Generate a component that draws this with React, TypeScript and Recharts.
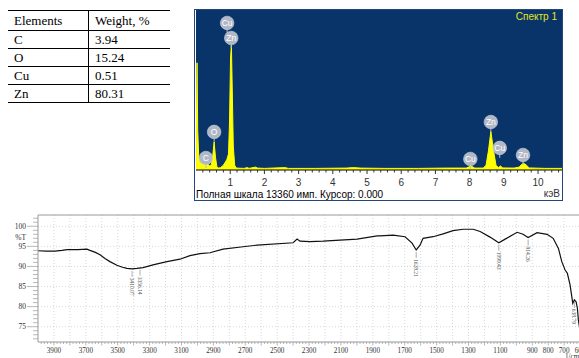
import React from 'react';
import { ComposedChart, Line, Area, Scatter, XAxis, YAxis, ReferenceLine, CartesianGrid } from 'recharts';

// ---------- table ----------
const tableElements = ['C', 'O', 'Cu', 'Zn'];
const tableWeights = ['3.94', '15.24', '0.51', '80.31'];

// ---------- EDS spectrum ----------
const edsEnergy = [0, 0.03, 0.05, 0.08, 0.12, 0.18, 0.24, 0.28, 0.33, 0.4, 0.45, 0.49, 0.53, 0.57, 0.61, 0.66, 0.72, 0.8, 0.86, 0.9, 0.95, 0.98, 1.01, 1.035, 1.06, 1.09, 1.13, 1.18, 1.4, 1.5, 1.55, 1.74, 1.8, 2.0, 2.6, 2.7, 3.5, 4.4, 4.6, 4.8, 5.5, 6.5, 7.3, 7.9, 8.04, 8.15, 8.4, 8.48, 8.55, 8.62, 8.7, 8.77, 8.84, 8.9, 8.97, 9.3, 9.45, 9.52, 9.58, 9.66, 9.74, 10.2, 10.7];
const edsCounts = [0, 67, 25, 8, 5, 4, 5, 6.5, 4, 2.5, 3.5, 9, 17.5, 8, 2, 1.2, 1.5, 3, 5, 6.5, 10, 30, 70, 78, 50, 15, 3, 1.2, 1, 1.5, 1, 1.8, 1.2, 1, 1.5, 1, 1, 1.2, 1.5, 1.2, 1, 1, 1.2, 1.2, 2.5, 1.2, 1.2, 3, 12, 24, 12, 3, 1.5, 2.5, 1.3, 1.2, 1.8, 3.5, 4.2, 3, 1.3, 1, 1];
const edsLabelNames = ['C', 'O', 'Cu', 'Zn', 'Cu', 'Zn', 'Cu', 'Zn'];
const edsLabelEnergy = [0.29, 0.53, 0.91, 1.03, 8.02, 8.62, 8.88, 9.56];
const edsLabelLevel = [7.5, 23.8, 91.9, 82.5, 6.9, 30, 13.8, 9.4];
const edsMajorTicks = [1, 2, 3, 4, 5, 6, 7, 8, 9, 10];

// ---------- FTIR spectrum ----------
const ftirWavenumber = [4000, 3950, 3894, 3850, 3818, 3750, 3693, 3674, 3640, 3611, 3580, 3549, 3505, 3470, 3442, 3410, 3380, 3341, 3279, 3191, 3110, 3047, 2984, 2921, 2840, 2714, 2626, 2400, 2375, 2357, 2294, 2212, 1999, 1873, 1855, 1773, 1698, 1654, 1628, 1604, 1585, 1522, 1459, 1397, 1334, 1271, 1227, 1165, 1110, 1070, 995, 958, 926, 870, 807, 769, 736, 715, 694, 680, 663, 646, 636, 625, 617, 611, 600, 590];
const ftirTransmittance = [93.9, 93.8, 93.8, 94.0, 94.2, 94.2, 94.3, 94.0, 93.5, 92.9, 92.0, 91.2, 90.3, 89.8, 89.5, 89.4, 89.5, 89.7, 90.4, 91.2, 91.8, 92.7, 93.2, 93.4, 94.3, 94.9, 95.3, 95.9, 96.8, 96.3, 96.2, 96.3, 96.8, 97.6, 97.6, 97.8, 97.4, 95.8, 94.1, 95.3, 97.0, 97.4, 98.1, 98.9, 99.25, 99.25, 98.7, 97.3, 95.9, 96.8, 98.5, 98.0, 97.2, 98.4, 98.0, 97.0, 94.5, 91.2, 89.1, 88.3, 85.4, 80.8, 81.7, 81.2, 79.6, 76.7, 74, 73];
const ftirPeakWavenumber = [3410, 3360, 1628, 1110, 926, 636];
const ftirPeakLabels = ['3410.07', '3356.14', '1628.21', '1099.43', '914.26', '638.79'];
const ftirXLabels = [3900, 3700, 3500, 3300, 3100, 2900, 2700, 2500, 2300, 2100, 1900, 1700, 1500, 1300, 1100, 900, 800, 700, 600];
const ftirYLabels = [75, 80, 85, 90, 95, 100];

const edsData = edsEnergy.map((e, i) => ({ e, c: edsCounts[i] }));
const edsLabels = edsLabelNames.map((name, i) => ({ e: edsLabelEnergy[i], c: edsLabelLevel[i], name }));
const edsTicks = Array.from({ length: 53 }, (_, i) => Math.round((i + 1) * 2) / 10);

const ftirData = ftirWavenumber.map((v, i) => ({ v, t: ftirTransmittance[i] }));
const ftirPeaks = ftirPeakWavenumber.map((v, i) => {
  let best = 0;
  ftirWavenumber.forEach((w, j) => { if (Math.abs(w - v) < Math.abs(ftirWavenumber[best] - v)) best = j; });
  return { v, t: ftirTransmittance[best], label: ftirPeakLabels[i] };
});
const ftirXTicks = Array.from({ length: 179 }, (_, i) => 420 + i * 20);
const Y_MIN = 71.2;
const Y_MAX = 102.8;
const PCT_T = 97.3;
const ftirYTicks = [...Array.from({ length: 31 }, (_, i) => 72 + i), PCT_T];
const ftirGridX = Array.from({ length: 35 }, (_, i) => 500 + i * 100);

const SERIF = '"Liberation Serif", "Times New Roman", serif';
const SANS = '"Liberation Sans", Arial, sans-serif';

const EdsTick = (p: any) => {
  const { x, y, payload } = p;
  const v = payload.value;
  const major = edsMajorTicks.some((m) => Math.abs(m - v) < 1e-6);
  return (
    <g>
      <line x1={x} x2={x} y1={y} y2={y + (major ? 4 : 2.5)} stroke="#333" strokeWidth={1} />
      {major && (
        <text x={x} y={y + 16} textAnchor="middle" fontSize={10} fill="#333" fontFamily={SANS}>
          {Math.round(v)}
        </text>
      )}
    </g>
  );
};

const renderEdsLabel = (p: any) => {
  const { cx, cy, payload } = p;
  return (
    <g>
      <line x1={cx} x2={cx} y1={cy + 6} y2={cy + 10} stroke="#b3bbca" strokeWidth={1} />
      <circle cx={cx} cy={cy} r={6.8} fill="#b0b8c7" stroke="#cdd2dc" strokeWidth={0.6} />
      <text x={cx} y={cy + 3} textAnchor="middle" fontSize={8.5} fill="#ffffff" fontFamily={SANS}>
        {payload.name}
      </text>
    </g>
  );
};

const FtirXTick = (p: any) => {
  const { x, y, payload } = p;
  const v = payload.value;
  const major = v % 100 === 0;
  const label = ftirXLabels.includes(v);
  return (
    <g>
      <line x1={x} x2={x} y1={y} y2={y + (major ? 3.5 : 2)} stroke="#999" strokeWidth={0.7} />
      {label && (
        <text x={x} y={y + 11} textAnchor="middle" fontSize={7.2} fill="#333" fontFamily={SERIF}>
          {v}
        </text>
      )}
      {v === 600 && (
        <text x={x - 8} y={y + 17} textAnchor="middle" fontSize={7.2} fill="#333" fontFamily={SERIF}>
          1/cm
        </text>
      )}
    </g>
  );
};

const FtirYTick = (p: any) => {
  const { x, y, payload } = p;
  const v = payload.value;
  if (v === PCT_T) {
    return (
      <text x={x - 12} y={y + 3} textAnchor="end" fontSize={7.5} fill="#333" fontFamily={SERIF}>
        %T
      </text>
    );
  }
  const major = ftirYLabels.includes(v);
  return (
    <g>
      <line x1={x - (major ? 11 : 5)} x2={x} y1={y} y2={y} stroke="#999" strokeWidth={0.7} />
      {major && (
        <text x={x - 12} y={y + 2.5} textAnchor="end" fontSize={7.5} fill="#333" fontFamily={SERIF}>
          {v}
        </text>
      )}
    </g>
  );
};

const renderPeak = (p: any) => {
  const { cx, cy, payload } = p;
  return (
    <g>
      <line x1={cx} x2={cx} y1={cy + 2} y2={cy + 8} stroke="#777" strokeWidth={0.6} />
      <text transform={`translate(${cx - 2},${cy + 9}) rotate(90)`} fontSize={5.5} fill="#555" fontFamily={SERIF}>
        {payload.label}
      </text>
    </g>
  );
};

const cellBase: React.CSSProperties = {
  borderTop: '1px solid #000',
  borderBottom: '1px solid #000',
  padding: '0 0 0 6px',
  lineHeight: '15px',
  verticalAlign: 'middle',
};

function DataTable() {
  return (
    <table
      style={{
        position: 'absolute',
        left: 8,
        top: 10,
        width: 162,
        borderCollapse: 'collapse',
        fontFamily: SERIF,
        fontSize: 13,
        color: '#000',
      }}
    >
      <tbody>
        <tr style={{ height: 20 }}>
          <td style={{ ...cellBase, width: 74, borderRight: '1px solid #000', borderTop: '1.5px solid #000' }}>Elements</td>
          <td style={{ ...cellBase, borderTop: '1.5px solid #000' }}>Weight, %</td>
        </tr>
        {tableElements.map((el, i) => (
          <tr key={el} style={{ height: 18 }}>
            <td style={{ ...cellBase, borderRight: '1px solid #000' }}>{el}</td>
            <td style={cellBase}>{tableWeights[i]}</td>
          </tr>
        ))}
      </tbody>
    </table>
  );
}

function Eds() {
  return (
    <div
      style={{
        position: 'absolute',
        left: 194,
        top: 9,
        width: 367,
        height: 190,
        border: '1px solid #25467a',
        background: '#fff',
      }}
    >
      <ComposedChart width={367} height={190} data={edsData} margin={{ top: 0, right: 0, left: 1, bottom: 10 }}>
        <CartesianGrid horizontal={false} vertical={false} fill="#08346a" stroke="none" />
        <XAxis
          dataKey="e"
          type="number"
          domain={[0, 10.7]}
          ticks={edsTicks}
          interval={0}
          tickLine={false}
          tickSize={0}
          tickMargin={0}
          height={20}
          axisLine={{ stroke: '#000' }}
          tick={EdsTick}
          allowDataOverflow
        />
        <YAxis type="number" domain={[0, 100]} hide allowDataOverflow />
        <Area
          dataKey="c"
          type="linear"
          stroke="#ffff00"
          strokeWidth={1}
          fill="#ffff00"
          fillOpacity={1}
          dot={false}
          activeDot={false}
          isAnimationActive={false}
        />
        <Scatter data={edsLabels} dataKey="c" shape={renderEdsLabel} isAnimationActive={false} />
      </ComposedChart>
      <div
        style={{
          position: 'absolute',
          right: 5,
          top: 1,
          fontFamily: SANS,
          fontSize: 10,
          lineHeight: '12px',
          color: '#e6e61e',
        }}
      >
        Спектр 1
      </div>
      <div
        style={{
          position: 'absolute',
          left: 1,
          top: 179,
          fontFamily: SANS,
          fontSize: 10,
          lineHeight: '12px',
          color: '#000',
          whiteSpace: 'nowrap',
        }}
      >
        Полная шкала 13360 имп. Курсор: 0.000
      </div>
      <div
        style={{
          position: 'absolute',
          right: 2,
          top: 178,
          fontFamily: SANS,
          fontSize: 10,
          lineHeight: '12px',
          color: '#333',
        }}
      >
        кэВ
      </div>
    </div>
  );
}

function Ftir() {
  return (
    <div style={{ position: 'absolute', left: 0, top: 205 }}>
      <ComposedChart width={640} height={153} margin={{ top: 10, right: 28, left: 0, bottom: 0 }}>
        <XAxis
          dataKey="v"
          type="number"
          domain={[400, 4000]}
          reversed
          ticks={ftirXTicks}
          interval={0}
          tickLine={false}
          tickSize={0}
          tickMargin={0}
          height={16}
          axisLine={{ stroke: '#999' }}
          tick={FtirXTick}
          allowDataOverflow
        />
        <YAxis
          type="number"
          domain={[Y_MIN, Y_MAX]}
          ticks={ftirYTicks}
          interval={0}
          tickLine={false}
          tickSize={0}
          tickMargin={0}
          width={38}
          axisLine={{ stroke: '#999' }}
          tick={FtirYTick}
          allowDataOverflow
        />
        {ftirGridX.map((gx) => (
          <ReferenceLine key={'gx' + gx} x={gx} stroke="#c8c8c8" strokeWidth={0.7} strokeDasharray="1 2" />
        ))}
        {ftirYLabels.map((gy) => (
          <ReferenceLine key={'gy' + gy} y={gy} stroke="#c8c8c8" strokeWidth={0.7} strokeDasharray="1 2" />
        ))}
        <ReferenceLine y={Y_MAX} stroke="#999" strokeWidth={1} />
        <Line
          data={ftirData}
          dataKey="t"
          type="linear"
          stroke="#111"
          strokeWidth={1.2}
          dot={false}
          activeDot={false}
          isAnimationActive={false}
        />
        <Scatter data={ftirPeaks} dataKey="t" shape={renderPeak} isAnimationActive={false} />
      </ComposedChart>
    </div>
  );
}

export default function App() {
  return (
    <div
      style={{
        position: 'absolute',
        left: 0,
        top: 0,
        width: 579,
        height: 358,
        overflow: 'hidden',
        background: '#fff',
      }}
    >
      <DataTable />
      <Eds />
      <Ftir />
    </div>
  );
}
